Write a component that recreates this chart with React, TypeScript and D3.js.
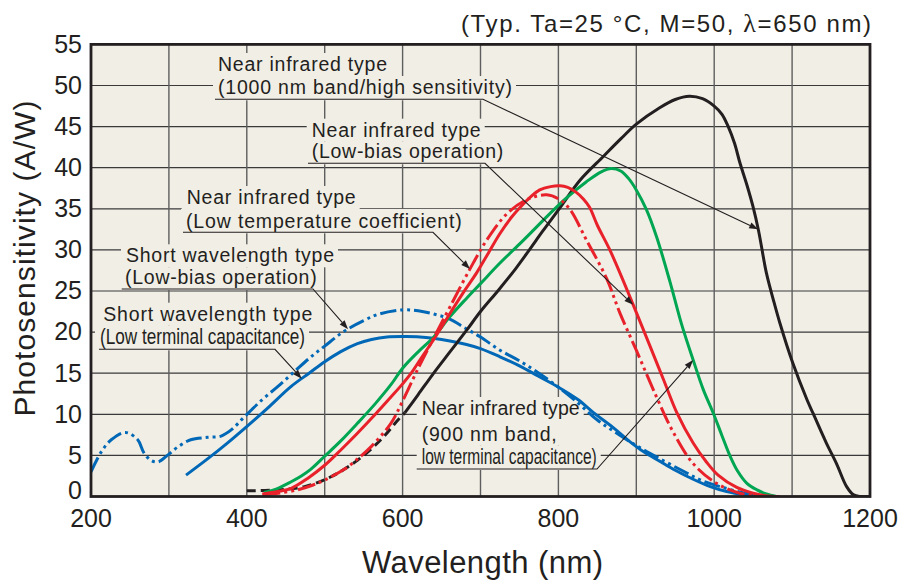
import React from 'react';
import * as d3 from 'd3';

const W = 898;
const H = 581;

const xTickLabels = [200, 400, 600, 800, 1000, 1200];
const xGridValues = [300, 400, 500, 600, 700, 800, 900, 1000, 1100];
const yTickLabels = [0, 5, 10, 15, 20, 25, 30, 35, 40, 45, 50, 55];

// Short wavelength type (Low-bias operation) — blue dash-dot
const shortLowBias: [number, number][] = [
  [200, 3.0], [213, 5.4], [226, 6.9], [244, 7.8], [260, 6.9], [268, 5.3], [277, 4.4], [286, 4.2],
  [298, 5.0], [311, 6.0], [328, 6.9], [350, 7.2], [367, 7.35], [380, 8.1], [397, 9.7], [420, 11.8],
  [440, 13.4], [460, 15.1], [480, 16.8], [500, 18.3], [525, 20.1], [550, 21.4], [570, 22.2], [600, 22.7],
  [620, 22.6], [640, 22.2], [660, 21.6], [680, 20.5], [700, 19.4], [725, 17.8], [750, 16.5], [775, 15.0],
  [800, 13.3], [825, 11.4], [850, 9.3], [875, 7.7], [900, 6.2], [930, 4.6], [960, 3.1], [985, 1.9],
  [1015, 1.0], [1040, 0.4], [1060, 0.15], [1075, 0],
];

// Short wavelength type (Low terminal capacitance) — blue solid
const shortLowCap: [number, number][] = [
  [322, 2.6], [350, 4.6], [375, 6.5], [401, 8.6], [425, 10.6], [457, 13.4], [480, 15.0], [500, 16.4],
  [520, 17.6], [542, 18.6], [560, 19.1], [580, 19.4], [605, 19.45], [630, 19.35], [650, 19.1], [682, 18.5],
  [700, 18.0], [725, 17.0], [750, 15.9], [775, 14.6], [800, 13.3], [825, 11.8], [845, 10.2], [870, 8.4],
  [890, 6.8], [910, 5.4], [930, 4.3], [950, 3.2], [973, 2.1], [995, 1.2], [1016, 0.6], [1040, 0.2], [1060, 0],
];

// Near infrared type (900 nm band, low terminal capacitance) — green
const nir900: [number, number][] = [
  [422, 0.5], [440, 1.0], [457, 1.8], [470, 2.5], [482, 3.3], [500, 4.9], [520, 6.7], [542, 8.9],
  [565, 11.3], [585, 13.6], [600, 15.6], [620, 17.6], [640, 19.4], [660, 21.8], [682, 24.1], [700, 25.9],
  [725, 28.4], [750, 30.7], [768, 32.4], [790, 34.5], [810, 36.3], [836, 38.3], [855, 39.5], [868, 39.9],
  [880, 39.6], [890, 38.7], [900, 37.3], [913, 34.9], [926, 31.6], [943, 26.2], [958, 21.0], [973, 16.6],
  [986, 13.0], [999, 10.1], [1010, 7.4], [1020, 5.0], [1030, 3.1], [1042, 1.6], [1055, 0.8], [1067, 0.3], [1080, 0],
];

// Near infrared type (Low-bias operation) — red solid
const nirLowBias: [number, number][] = [
  [420, 0.3], [440, 0.6], [457, 1.0], [478, 2.2], [500, 3.8], [520, 5.6], [542, 7.7], [565, 10.0],
  [585, 12.1], [600, 13.7], [611, 15.0], [625, 17.0], [640, 19.1], [661, 22.3], [680, 25.1], [695, 27.2],
  [710, 29.6], [725, 32.0], [740, 34.0], [751, 35.2], [765, 36.5], [776, 37.3], [790, 37.7], [802, 37.8],
  [812, 37.6], [823, 37.0], [832, 36.2], [840, 35.2], [850, 33.0], [866, 30.0], [883, 26.3], [900, 22.4],
  [918, 18.2], [935, 14.2], [952, 10.2], [973, 6.5], [990, 4.2], [1005, 2.6], [1029, 1.1], [1050, 0.4],
  [1065, 0.1], [1084, 0],
];

// Near infrared type (Low temperature coefficient) — red dash-dot
const nirLowTemp: [number, number][] = [
  [420, 0.2], [440, 0.4], [465, 0.8], [485, 1.4], [500, 2.0], [525, 3.3], [545, 4.8], [560, 6.1],
  [585, 8.9], [600, 11.6], [620, 15.6], [640, 19.3], [661, 23.1], [686, 27.6], [708, 31.2], [734, 34.4],
  [759, 36.1], [785, 36.7], [802, 36.1], [815, 34.9], [836, 31.2], [862, 26.5], [879, 22.3], [900, 17.8],
  [926, 12.1], [947, 7.9], [973, 4.0], [1003, 1.6], [1033, 0.4], [1059, 0],
];

// Near infrared type (1000 nm band/high sensitivity) — black (dashed below ~600 nm)
const nir1000Low: [number, number][] = [
  [400, 0.7], [440, 0.8], [474, 1.2], [508, 2.4], [542, 4.4], [572, 6.9], [594, 9.3], [603, 10.2],
];
const nir1000: [number, number][] = [
  [603, 10.2], [620, 12.4], [639, 14.9], [660, 17.5], [682, 20.2], [700, 22.5], [723, 25.1], [745, 27.7],
  [762, 29.9], [780, 32.3], [801, 35.0], [828, 38.5], [858, 41.4], [880, 43.5], [900, 45.3], [930, 47.3],
  [950, 48.3], [968, 48.7], [985, 48.4], [1000, 47.5], [1010, 46.5], [1018, 45.0], [1026, 43.0], [1033, 40.6],
  [1042, 37.9], [1050, 35.2], [1057, 32.3], [1067, 27.2], [1076, 23.9], [1084, 21.2], [1101, 16.2], [1119, 11.8],
  [1127, 10.1], [1144, 6.5], [1157, 4.0], [1170, 1.2], [1179, 0.2], [1188, 0], [1200, 0],
];

const BLUE = '#0068b7';
const RED = '#e8212a';
const GREEN = '#00a651';
const BLACK = '#231f20';
const BG = '#f1eee6';

const series = [
  { key: 'shortLowCap', data: shortLowCap, color: BLUE, dash: undefined as string | undefined },
  { key: 'shortLowBias', data: shortLowBias, color: BLUE, dash: '16 4 3 4 3 4' },
  { key: 'nir1000Low', data: nir1000Low, color: BLACK, dash: '9 5' },
  { key: 'nir1000', data: nir1000, color: BLACK, dash: undefined },
  { key: 'nir900', data: nir900, color: GREEN, dash: undefined },
  { key: 'nirLowTemp', data: nirLowTemp, color: RED, dash: '18 4 3 4 3 4' },
  { key: 'nirLowBias', data: nirLowBias, color: RED, dash: undefined },
];

const titleBefore = '(Typ. Ta=25 °C, M=50, ';
const titleLambda = 'λ';
const titleAfter = '=650 nm)';
const xTitle = 'Wavelength (nm)';
const yTitle = 'Photosensitivity (A/W)';

type Line = { text: string; x: number; y: number; len: number; condensed?: boolean };
type Label = { lines: Line[]; ul: { x1: number; x2: number; y: number }; target: { key: string; nm: number } };

const labels: Label[] = [
  {
    lines: [
      { text: 'Near infrared type', x: 218, y: 71, len: 169 },
      { text: '(1000 nm band/high sensitivity)', x: 218, y: 94, len: 294 },
    ],
    ul: { x1: 215, x2: 483, y: 99.3 },
    target: { key: 'nir1000', nm: 1056.5 },
  },
  {
    lines: [
      { text: 'Near infrared type', x: 311.7, y: 136.7, len: 169 },
      { text: '(Low-bias operation)', x: 311.7, y: 158.3, len: 191.6 },
    ],
    ul: { x1: 308, x2: 485, y: 163.3 },
    target: { key: 'nirLowBias', nm: 896 },
  },
  {
    lines: [
      { text: 'Near infrared type', x: 186.7, y: 204, len: 169 },
      { text: '(Low temperature coefficient)', x: 186, y: 227.5, len: 275.7 },
    ],
    ul: { x1: 183, x2: 433, y: 232.3 },
    target: { key: 'nirLowTemp', nm: 686.5 },
  },
  {
    lines: [
      { text: 'Short wavelength type', x: 126, y: 262.3, len: 208 },
      { text: '(Low-bias operation)', x: 125, y: 284.3, len: 191.7 },
    ],
    ul: { x1: 121.7, x2: 313, y: 289 },
    target: { key: 'shortLowBias', nm: 530 },
  },
  {
    lines: [
      { text: 'Short wavelength type', x: 103.3, y: 320.7, len: 209 },
      { text: '(Low terminal capacitance)', x: 100, y: 343.5, len: 205, condensed: true },
    ],
    ul: { x1: 99, x2: 275, y: 349.3 },
    target: { key: 'shortLowCap', nm: 470.5 },
  },
  {
    lines: [
      { text: 'Near infrared type', x: 421.7, y: 415, len: 158 },
      { text: '(900 nm band,', x: 421.7, y: 440.7, len: 135 },
      { text: 'low terminal capacitance)', x: 421.7, y: 463.5, len: 175, condensed: true },
    ],
    ul: { x1: 416.7, x2: 597, y: 469 },
    target: { key: 'nir900', nm: 973 },
  },
];

function interp(data: [number, number][], nm: number): number {
  for (let i = 0; i < data.length - 1; i++) {
    const [x0, y0] = data[i];
    const [x1, y1] = data[i + 1];
    if (nm >= x0 && nm <= x1) return y0 + ((nm - x0) / (x1 - x0)) * (y1 - y0);
  }
  return data[data.length - 1][1];
}

export default function App() {
  const left = 91, right = 870, top = 44.4, bottom = 496.5;
  const x = d3.scaleLinear().domain([200, 1200]).range([left, right]);
  const y = d3.scaleLinear().domain([0, 55]).range([bottom, top]);
  const line = d3
    .line<[number, number]>()
    .x((d) => x(d[0]))
    .y((d) => Math.min(bottom, y(d[1])))
    .curve(d3.curveCatmullRom.alpha(0.5));

  const font = "'Liberation Sans', Arial, Helvetica, sans-serif";
  const ink = '#231f20';

  return (
    <>
      <style>{`body{margin:0}`}</style>
      <svg width={W} height={H} viewBox={`0 0 ${W} ${H}`} style={{ display: 'block', background: '#fff' }} fontFamily={font}>
        <defs>
          <clipPath id="plotClip">
            <rect x={left} y={top} width={right - left} height={bottom - top} />
          </clipPath>
        </defs>
        <rect x={left} y={top} width={right - left} height={bottom - top} fill={BG} />

        {/* grid */}
        {yTickLabels.slice(1, -1).map((v) => (
          <line key={'h' + v} x1={left} x2={right} y1={y(v)} y2={y(v)} stroke="#3a3a3a" strokeWidth={1.2} />
        ))}
        {xGridValues.map((v) => (
          <line key={'v' + v} x1={x(v)} x2={x(v)} y1={top} y2={bottom} stroke="#5e5e5e" strokeWidth={1.4} />
        ))}

        {/* label backgrounds */}
        {labels.map((lab, i) =>
          lab.lines.map((ln, j) => {
            const isLast = j === lab.lines.length - 1;
            const prev = j > 0 ? lab.lines[j - 1] : null;
            const y0 = prev ? prev.y + 5 : ln.y - 18;
            const y1 = isLast ? lab.ul.y + 1 : ln.y + 5;
            return (
              <rect key={`bg${i}-${j}`} x={ln.x - 5} y={y0} width={ln.len + 9} height={y1 - y0} fill={BG} />
            );
          })
        )}

        {/* label texts */}
        {labels.map((lab, i) =>
          lab.lines.map((ln, j) => (
            <text
              key={`t${i}-${j}`}
              x={ln.x}
              y={ln.y}
              fontSize={ln.condensed ? 21.5 : 19.5}
              fill={ink}
              textLength={ln.len}
              lengthAdjust={ln.condensed ? 'spacingAndGlyphs' : 'spacing'}
            >
              {ln.text}
            </text>
          ))
        )}

        {/* curves */}
        <g clipPath="url(#plotClip)">
          {series.map((s) => (
            <path
              key={s.key}
              d={line(s.data) || ''}
              fill="none"
              stroke={s.color}
              strokeWidth={3}
              strokeDasharray={s.dash}
              strokeLinejoin="round"
            />
          ))}
        </g>

        {/* leaders */}
        {labels.map((lab, i) => {
          const s = series.find((q) => q.key === lab.target.key)!;
          const tx = x(lab.target.nm);
          const ty = y(interp(s.data, lab.target.nm));
          const sx = lab.ul.x2;
          const sy = lab.ul.y;
          const ang = Math.atan2(ty - sy, tx - sx);
          const L = 9, Wd = 3.2;
          const bx = tx - L * Math.cos(ang);
          const by = ty - L * Math.sin(ang);
          const p1 = [bx + Wd * Math.sin(ang), by - Wd * Math.cos(ang)];
          const p2 = [bx - Wd * Math.sin(ang), by + Wd * Math.cos(ang)];
          return (
            <g key={'ld' + i}>
              <polyline
                points={`${lab.ul.x1},${sy} ${sx},${sy} ${bx},${by}`}
                fill="none"
                stroke={ink}
                strokeWidth={1.1}
              />
              <polygon points={`${tx},${ty} ${p1[0]},${p1[1]} ${p2[0]},${p2[1]}`} fill={ink} />
            </g>
          );
        })}

        {/* frame */}
        <rect x={left} y={top} width={right - left} height={bottom - top} fill="none" stroke={ink} strokeWidth={2.8} />

        {/* y ticks */}
        {yTickLabels.map((v) => (
          <text key={'yl' + v} x={82} y={v === 0 ? 499 : y(v) + 8.3} textAnchor="end" fontSize={25} fill={ink}>
            {v}
          </text>
        ))}
        {/* x ticks */}
        {xTickLabels.map((v) => (
          <text key={'xl' + v} x={x(v)} y={527} textAnchor="middle" fontSize={25} fill={ink}>
            {v}
          </text>
        ))}

        {/* titles */}
        <text x={871} y={31.5} textAnchor="end" fontSize={24} fill={ink} textLength={410} lengthAdjust="spacing">
          {titleBefore}
          <tspan fontFamily="'Liberation Serif', 'DejaVu Serif', serif" fontSize={26}>{titleLambda}</tspan>
          {titleAfter}
        </text>
        <text x={(left + right) / 2 + 2} y={573} textAnchor="middle" fontSize={31} fill={ink} textLength={241} lengthAdjust="spacing">
          {xTitle}
        </text>
        <text
          transform={`translate(35, 258.5) rotate(-90)`}
          textAnchor="middle"
          fontSize={30}
          fill={ink}
          textLength={316}
          lengthAdjust="spacing"
        >
          {yTitle}
        </text>
      </svg>
    </>
  );
}
